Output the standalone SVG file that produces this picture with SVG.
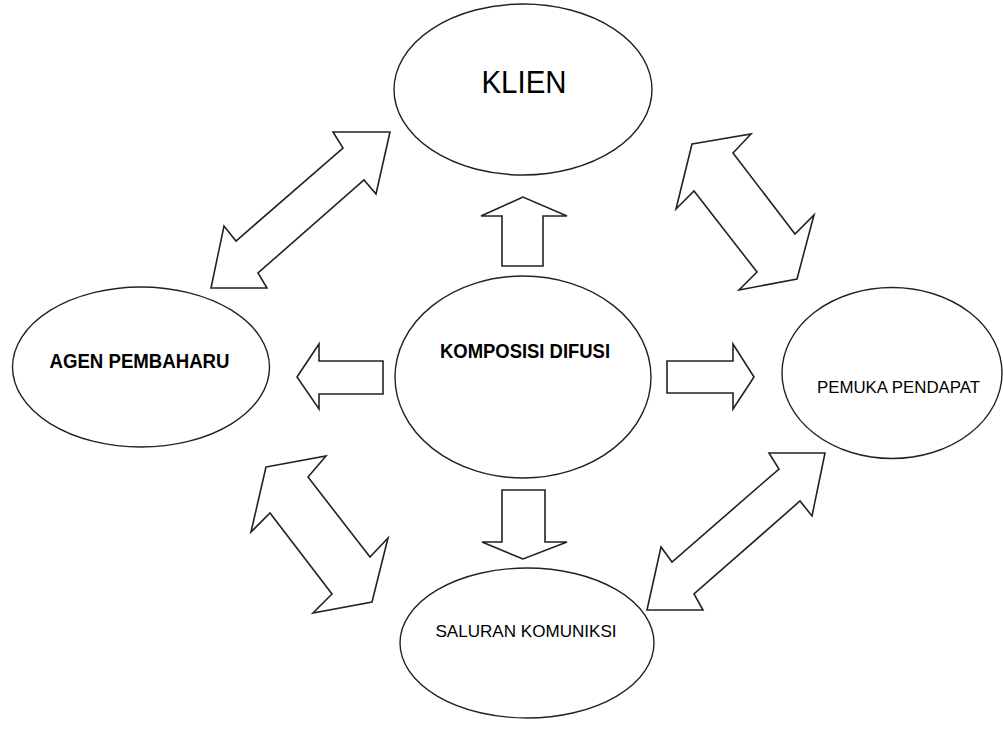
<svg xmlns="http://www.w3.org/2000/svg" width="1003" height="751" viewBox="0 0 1003 751">
<style>
.node{fill:#fff;stroke:#222;stroke-width:1.4}
.arr{fill:#fff;stroke:#222;stroke-width:1.6;stroke-linejoin:miter}
.t{font-family:"Liberation Sans",Arial,sans-serif;fill:#000;text-anchor:middle}
.b{font-weight:bold}
</style>
<rect width="1003" height="751" fill="#fff"/>
<g id="klien"><ellipse class="node" cx="523" cy="89.5" rx="129" ry="85.5"/><text class="t" x="524" y="92.5" font-size="31" textLength="85" lengthAdjust="spacingAndGlyphs">KLIEN</text></g>
<g id="agen"><ellipse class="node" cx="141" cy="367" rx="128.5" ry="80"/><text class="t b" x="139.5" y="367.5" font-size="21" textLength="180" lengthAdjust="spacingAndGlyphs">AGEN PEMBAHARU</text></g>
<g id="komposisi"><ellipse class="node" cx="523" cy="377" rx="128" ry="101"/><text class="t b" x="525" y="357.5" font-size="21" textLength="170" lengthAdjust="spacingAndGlyphs">KOMPOSISI DIFUSI</text></g>
<g id="pemuka"><ellipse class="node" cx="892" cy="373" rx="110" ry="85.5"/><text class="t" x="898.5" y="393" font-size="17" textLength="163" lengthAdjust="spacingAndGlyphs">PEMUKA PENDAPAT</text></g>
<g id="saluran"><ellipse class="node" cx="527" cy="643" rx="127" ry="75"/><text class="t" x="526" y="637" font-size="17" textLength="181" lengthAdjust="spacingAndGlyphs">SALURAN KOMUNIKSI</text></g>
<g id="connectors">
<polygon class="arr" points="333,132 390,132 376,194 364,180 258,273 267,288 211,288 224,226 236,241 343,148"/>
<polygon class="arr" points="692,144 751,134 733,153 795,234 814,215 797,279 739,290 757,272 694,191 676,209"/>
<polygon class="arr" points="266,467 326,456 308,477 370,557 388,538 372,602 313,613 332,594 270,513 251,532"/>
<polygon class="arr" points="769,453 825,453 812,516 800,501 694,594 703,610 647,610 661,547 672,562 779,469"/>
<polygon class="arr" points="523,197 481,216 502,216 502,266 543,266 543,216 567,216"/>
<polygon class="arr" points="297,377 319,344 319,361 383,361 383,394 319,394 319,409"/>
<polygon class="arr" points="754,377 733,344 733,361 667,361 667,393 733,393 733,409"/>
<polygon class="arr" points="523,559 482,542 502,542 502,490 545,490 545,542 567,542"/>
</g>
</svg>
